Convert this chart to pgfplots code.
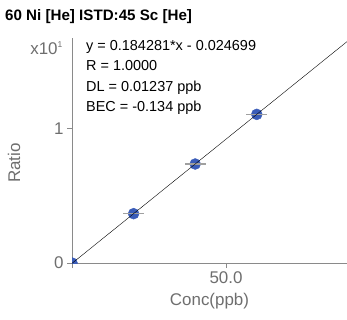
\documentclass[border=0pt]{standalone}
\usepackage{pgfplots}
\pgfplotsset{compat=1.18}
\usepackage{fontspec}
\setmainfont{Liberation Sans}
\definecolor{txtgray}{HTML}{6E6E6E}
\definecolor{axgray}{HTML}{8A8A8A}
\definecolor{errgray}{HTML}{A0A0A0}
\definecolor{ptblue}{HTML}{3A5CB8}
\begin{document}
\begin{tikzpicture}[x=1bp,y=1bp]
\useasboundingbox (0,0) rectangle (347,320);
\node[anchor=base west,font=\fontsize{15.2}{17}\selectfont\bfseries,inner sep=0pt] at (5,300) {60 Ni [He] ISTD:45 Sc [He]};
\node[anchor=base east,text=txtgray,font=\fontsize{17}{19}\selectfont,inner sep=0pt] at (63,266) {x10\textsuperscript{\fontsize{8.5}{9}\selectfont 1}};
\node[rotate=90,text=txtgray,font=\fontsize{17}{19}\selectfont] at (14,157) {Ratio};
\begin{axis}[
  at={(72bp,57bp)}, anchor=south west,
  scale only axis, width=275bp, height=225bp,
  xmin=0, xmax=89.3, ymin=0, ymax=16.7,
  axis x line=bottom, axis y line=left,
  axis line style={axgray, line width=0.8pt, -},
  tick style={axgray, line width=0.8pt},
  tick align=outside, major tick length=5bp,
  xtick={0,50}, xticklabels={,50.0},
  ytick={0,10}, yticklabels={0,1},
  ticklabel style={text=txtgray, font=\fontsize{17}{19}\selectfont},
  /pgf/number format/assume math mode=true,
  xlabel={Conc(ppb)},
  xlabel style={text=txtgray, font=\fontsize{17}{19}\selectfont, yshift=-3bp},
  clip marker paths=true,
]
\addplot[only marks, mark=*, mark size=5.5bp, mark options={fill=ptblue, draw=ptblue}]
  coordinates {(0,0) (20,3.661) (40,7.347) (60,11.032)};
\addplot[draw=none, mark=none,
  error bars/.cd, x dir=both, x explicit,
  error bar style={errgray, line width=1.3pt}, error mark=none]
  coordinates {
  (20,3.661) +- (3.4,0)
  (40,7.347) +- (3.4,0)
  (60,11.032) +- (3.4,0)
  };
\addplot[black, line width=0.4pt] coordinates {(0,-0.024699) (95,17.482)};
\end{axis}
\node[anchor=north west, align=left, font=\fontsize{14.5}{20.5}\selectfont, inner sep=0pt] at (86,280) {y = 0.184281*x - 0.024699\\R = 1.0000\\DL = 0.01237 ppb\\BEC = -0.134 ppb};
\end{tikzpicture}
\end{document}
